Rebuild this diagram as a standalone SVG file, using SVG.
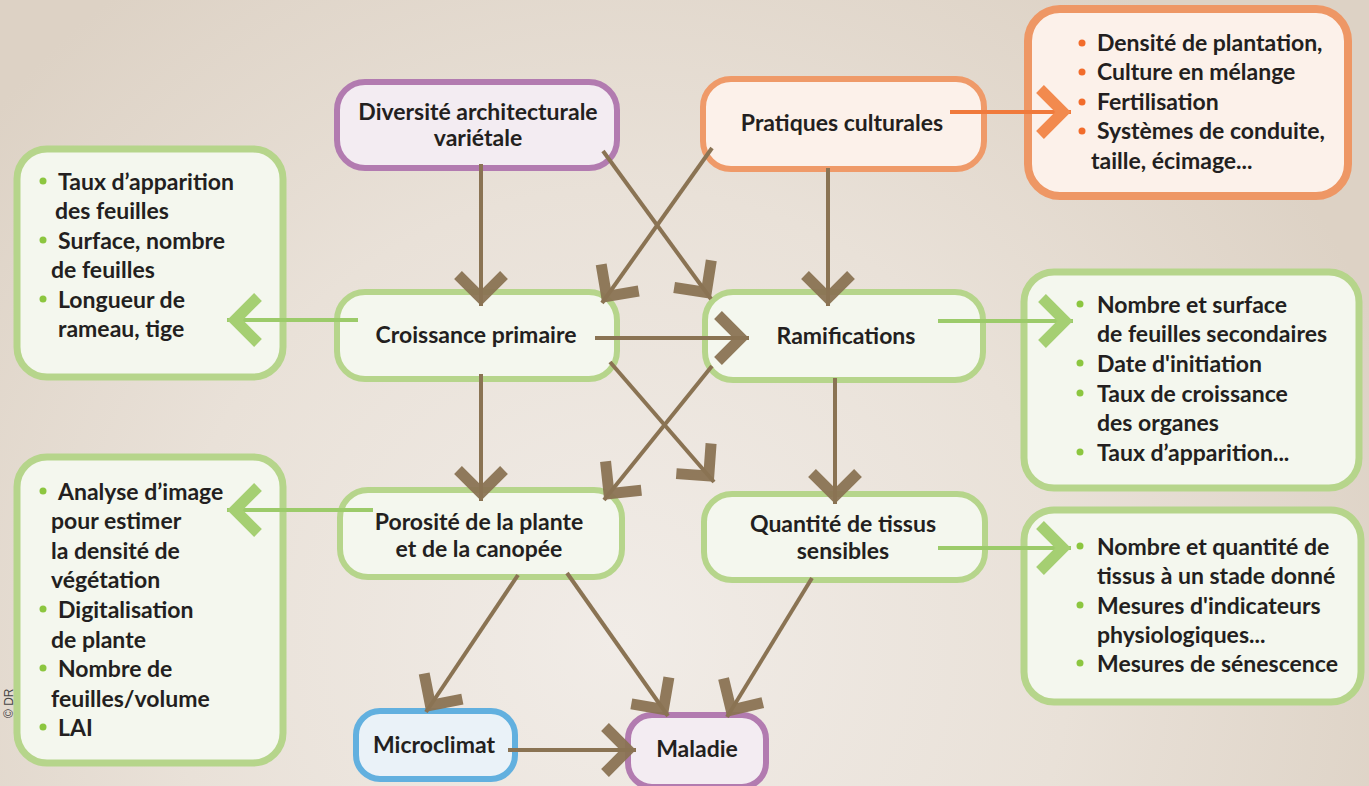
<svg xmlns="http://www.w3.org/2000/svg" width="1369" height="786" viewBox="0 0 1369 786">
<defs>
<radialGradient id="bg" cx="620" cy="640" r="820" gradientUnits="userSpaceOnUse">
<stop offset="0" stop-color="#f1ece7"/>
<stop offset="0.55" stop-color="#e9e1d8"/>
<stop offset="1" stop-color="#ddd2c5"/>
</radialGradient>
<marker id="ab" markerUnits="userSpaceOnUse" orient="auto" markerWidth="80" markerHeight="80" refX="0" refY="0" viewBox="-40 -40 80 80" overflow="visible">
<path d="M-31,-23 L-8,0 L-31,23" fill="none" stroke="#8a7353" stroke-width="11" stroke-opacity="0.95"/>
</marker>
<marker id="ag" markerUnits="userSpaceOnUse" orient="auto" markerWidth="80" markerHeight="80" refX="0" refY="0" viewBox="-40 -40 80 80" overflow="visible">
<path d="M-31,-23 L-8,0 L-31,23" fill="none" stroke="#a5cf72" stroke-width="11"/>
</marker>
<marker id="ao" markerUnits="userSpaceOnUse" orient="auto" markerWidth="80" markerHeight="80" refX="0" refY="0" viewBox="-40 -40 80 80" overflow="visible">
<path d="M-31,-23 L-8,0 L-31,23" fill="none" stroke="#f28a4e" stroke-width="11"/>
</marker>
</defs>
<style>
text{font-family:Lato,"Open Sans","Liberation Sans",sans-serif;font-weight:bold;font-size:23px;fill:#231f20}
.c{text-anchor:middle}
.g{fill:#f4f7ee;stroke:#b6d58b;stroke-width:6}
.gl{fill:#f4f7ee;stroke:#b6d58b;stroke-width:7}
.p{fill:#f3ecf2;stroke:#b27bb0;stroke-width:6}
.o{fill:#fcf1ea;stroke:#ef9a69;stroke-width:6}
.ol{fill:#fcf1ea;stroke:#ee9765;stroke-width:8}
.b{fill:#eaf2f8;stroke:#62b0df;stroke-width:6}
.bg{fill:#8cc63f}
.bo{fill:#f26c2b}
.e{fill:none;stroke:#8a7353;stroke-width:4;marker-end:url(#ab)}
.eg{fill:none;stroke:#9ccb6a;stroke-width:4;marker-end:url(#ag)}
.eo{fill:none;stroke:#f07a3c;stroke-width:4;marker-end:url(#ao)}
</style>
<rect width="1369" height="786" fill="url(#bg)"/>

<g id="nodes">
<g id="diversite">
<rect class="p" x="337" y="82" width="280" height="86" rx="28"/>
<text class="c" x="478" y="120">Diversité architecturale</text>
<text class="c" x="478" y="146">variétale</text>
</g>
<g id="pratiques">
<rect class="o" x="703" y="79" width="281" height="90" rx="28"/>
<text class="c" x="842" y="131">Pratiques culturales</text>
</g>
<g id="liste-pratiques">
<rect class="ol" x="1028" y="9" width="320" height="187" rx="32"/>
<circle class="bo" cx="1082" cy="43" r="3.5"/><text x="1097" y="51">Densité de plantation,</text>
<circle class="bo" cx="1082" cy="72" r="3.5"/><text x="1097" y="80">Culture en mélange</text>
<circle class="bo" cx="1082" cy="102" r="3.5"/><text x="1097" y="110">Fertilisation</text>
<circle class="bo" cx="1082" cy="131" r="3.5"/><text x="1097" y="139">Systèmes de conduite,</text>
<text x="1091" y="169">taille, écimage...</text>
</g>
<g id="liste-croissance">
<rect class="gl" x="17" y="149" width="266" height="228" rx="30"/>
<circle class="bg" cx="43" cy="181" r="3.5"/><text x="58" y="190">Taux d’apparition</text>
<text x="55" y="219">des feuilles</text>
<circle class="bg" cx="43" cy="240" r="3.5"/><text x="58" y="249">Surface, nombre</text>
<text x="51" y="278">de feuilles</text>
<circle class="bg" cx="43" cy="299" r="3.5"/><text x="58" y="308">Longueur de</text>
<text x="58" y="337">rameau, tige</text>
</g>
<g id="croissance">
<rect class="g" x="337" y="292" width="280" height="87" rx="28"/>
<text class="c" x="476" y="343">Croissance primaire</text>
</g>
<g id="ramifications">
<rect class="g" x="705" y="292" width="278" height="88" rx="28"/>
<text class="c" x="846" y="344">Ramifications</text>
</g>
<g id="liste-ramifications">
<rect class="gl" x="1024" y="272" width="335" height="216" rx="30"/>
<circle class="bg" cx="1080" cy="304" r="3.5"/><text x="1097" y="313">Nombre et surface</text>
<text x="1097" y="342">de feuilles secondaires</text>
<circle class="bg" cx="1080" cy="363" r="3.5"/><text x="1097" y="372">Date d'initiation</text>
<circle class="bg" cx="1080" cy="393" r="3.5"/><text x="1097" y="402">Taux de croissance</text>
<text x="1097" y="431">des organes</text>
<circle class="bg" cx="1080" cy="452" r="3.5"/><text x="1097" y="461">Taux d’apparition...</text>
</g>
<g id="porosite">
<rect class="g" x="340" y="490" width="282" height="87" rx="28"/>
<text class="c" x="479" y="530">Porosité de la plante</text>
<text class="c" x="479" y="557">et de la canopée</text>
</g>
<g id="quantite">
<rect class="g" x="704" y="494" width="281" height="86" rx="28"/>
<text class="c" x="843" y="532">Quantité de tissus</text>
<text class="c" x="843" y="559">sensibles</text>
</g>
<g id="liste-porosite">
<rect class="gl" x="17" y="457" width="266" height="306" rx="30"/>
<circle class="bg" cx="43" cy="491" r="3.5"/><text x="58" y="500">Analyse d’image</text>
<text x="51" y="529">pour estimer</text>
<text x="51" y="559">la densité de</text>
<text x="51" y="588">végétation</text>
<circle class="bg" cx="43" cy="609" r="3.5"/><text x="58" y="618">Digitalisation</text>
<text x="51" y="648">de plante</text>
<circle class="bg" cx="43" cy="668" r="3.5"/><text x="58" y="677">Nombre de</text>
<text x="51" y="707">feuilles/volume</text>
<circle class="bg" cx="43" cy="727" r="3.5"/><text x="58" y="736">LAI</text>
</g>
<g id="liste-quantite">
<rect class="gl" x="1024" y="510" width="337" height="192" rx="30"/>
<circle class="bg" cx="1080" cy="546" r="3.5"/><text x="1097" y="555">Nombre et quantité de</text>
<text x="1097" y="584">tissus à un stade donné</text>
<circle class="bg" cx="1080" cy="605" r="3.5"/><text x="1097" y="614">Mesures d'indicateurs</text>
<text x="1097" y="643">physiologiques...</text>
<circle class="bg" cx="1080" cy="663" r="3.5"/><text x="1097" y="672">Mesures de sénescence</text>
</g>
<g id="microclimat">
<rect class="b" x="356" y="711" width="159" height="68" rx="24"/>
<text class="c" x="434" y="753">Microclimat</text>
</g>
<g id="maladie">
<rect class="p" x="628" y="715" width="138" height="72" rx="24"/>
<text class="c" x="697" y="757">Maladie</text>
</g>
</g>

<g id="connectors">
<path class="e" d="M481,164 L481,306"/>
<path class="e" d="M603,151 L711,299"/>
<path class="e" d="M712,148 L602,303"/>
<path class="e" d="M828,168 L828,306"/>
<path class="e" d="M595,338 L749,338"/>
<path class="e" d="M481,374 L481,501"/>
<path class="e" d="M610,362 L714,482"/>
<path class="e" d="M712,366 L604,500"/>
<path class="e" d="M835,378 L835,504"/>
<path class="e" d="M518,575 L426,712"/>
<path class="e" d="M567,573 L668,716"/>
<path class="e" d="M812,578 L727,717"/>
<path class="e" d="M508,750 L636,750"/>
<path class="eg" d="M358,320 L227,320"/>
<path class="eg" d="M938,321 L1073,321"/>
<path class="eg" d="M373,510 L227,510"/>
<path class="eg" d="M938,548 L1071,548"/>
<path class="eo" d="M950,112 L1071,112"/>
</g>
<text x="0" y="0" transform="translate(13,718) rotate(-90)" style="font-family:'Liberation Sans',Arial,sans-serif;font-weight:normal;font-size:12px;fill:#444">© DR</text>
</svg>
